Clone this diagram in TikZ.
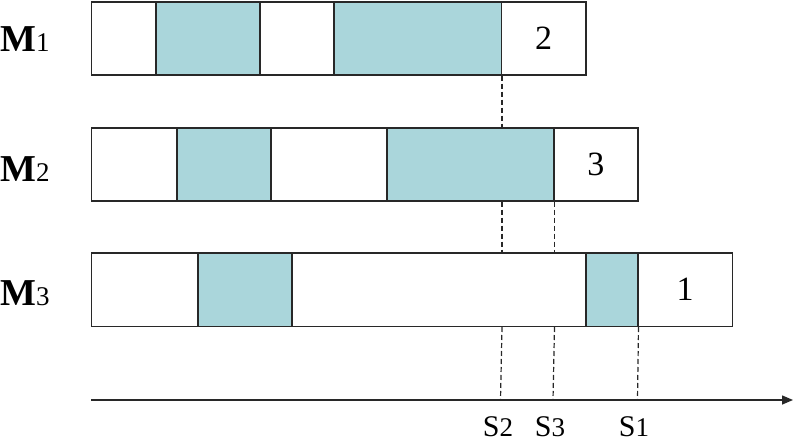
\documentclass[tikz,border=0pt]{standalone}
\usepackage{fontspec}
\setmainfont{Liberation Serif}
\usetikzlibrary{arrows.meta}
\definecolor{teal1}{RGB}{170,214,219}
\definecolor{ln}{RGB}{40,40,40}
\begin{document}
\begin{tikzpicture}[x=1pt,y=-1pt,
  cellw/.style={draw=ln, line width=1.5pt, fill=white, inner sep=0pt, anchor=north west, font=\fontsize{34}{34}\selectfont},
  cellt/.style={cellw, fill=teal1},
  guide/.style={draw=ln, line width=1.2pt, dash pattern=on 5pt off 3pt},
  mlab/.style={anchor=base west, inner sep=0pt, font=\fontsize{38}{38}\selectfont\bfseries},
  slab/.style={anchor=base, inner sep=0pt, font=\fontsize{30}{30}\selectfont}]
\useasboundingbox (0,0) rectangle (793,439);
% M1 row (y 1..74)
\node[cellw, minimum width=64.5pt, minimum height=73pt] (a1) at (90.5,1) {};
\node[cellt, minimum width=104pt, minimum height=73pt] (a2) at (155,1) {};
\node[cellw, minimum width=74pt, minimum height=73pt] (a3) at (259,1) {};
\node[cellt, minimum width=167.5pt, minimum height=73pt] (a4) at (333,1) {};
\node[cellw, minimum width=84.5pt, minimum height=73pt] (a5) at (500.5,1) {2};
% M2 row (y 127..200)
\node[cellw, minimum width=85.5pt, minimum height=73pt] (b1) at (90.5,127) {};
\node[cellt, minimum width=94pt, minimum height=73pt] (b2) at (176,127) {};
\node[cellw, minimum width=116pt, minimum height=73pt] (b3) at (270,127) {};
\node[cellt, minimum width=167pt, minimum height=73pt] (b4) at (386,127) {};
\node[cellw, minimum width=84pt, minimum height=73pt] (b5) at (553,127) {3};
% M3 row (y 252..325.5)
\node[cellw, minimum width=106.5pt, minimum height=73.5pt] (c1) at (90.5,252) {};
\node[cellt, minimum width=94pt, minimum height=73.5pt] (c2) at (197,252) {};
\node[cellw, minimum width=294pt, minimum height=73.5pt] (c3) at (291,252) {};
\node[cellt, minimum width=52pt, minimum height=73.5pt] (c4) at (585,252) {};
\node[cellw, minimum width=94.5pt, minimum height=73.5pt] (c5) at (637,252) {1};
% row labels
\node[mlab] (l1) at (0,51) {M{\fontsize{27}{27}\selectfont\mdseries 1}};
\node[mlab] (l2) at (0,181) {M{\fontsize{27}{27}\selectfont\mdseries 2}};
\node[mlab] (l3) at (0,305) {M{\fontsize{27}{27}\selectfont\mdseries 3}};
% time axis
\coordinate (ax0) at (91,400);
\coordinate (ax1) at (793,400);
\draw[ln, line width=1.5pt, -{Triangle[length=11pt,width=9pt]}] (ax0) -- (ax1);
% axis marks
\coordinate (s2) at (500.5,400);
\coordinate (s3) at (553,400);
\coordinate (s1) at (637.5,400);
% dashed guides
\draw[guide] (a4.south east) -- (a4.south east |- b4.north);
\draw[guide] (a4.south east |- b4.south) -- (a4.south east |- c3.north);
\draw[guide] (a4.south east |- c3.south) -- (s2);
\draw[guide] (b4.south east) -- (b4.south east |- c3.north);
\draw[guide] (b4.south east |- c3.south) -- (s3);
\draw[guide] (c4.south east) -- (s1);
% axis labels
\node[slab] (t2) at (498,436) {S{\fontsize{27}{27}\selectfont 2}};
\node[slab] (t3) at (550,436) {S{\fontsize{27}{27}\selectfont 3}};
\node[slab] (t1) at (634,436) {S{\fontsize{27}{27}\selectfont 1}};
\end{tikzpicture}
\end{document}
